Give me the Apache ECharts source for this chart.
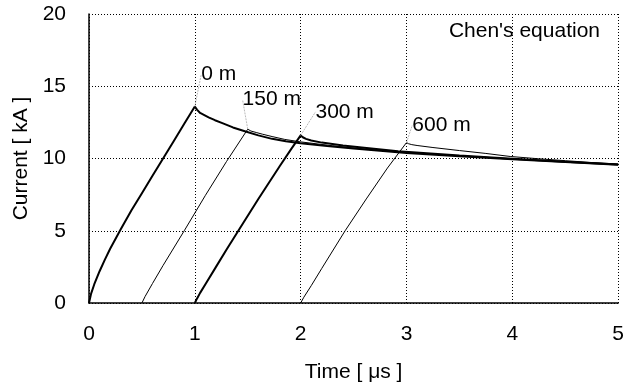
<!DOCTYPE html>
<html>
<head>
<meta charset="utf-8">
<script src="https://cdn.jsdelivr.net/npm/echarts@6/dist/echarts.min.js"></script>
<style>
  html, body { margin: 0; padding: 0; background: #fff; }
  #chart { width: 627px; height: 390px; }
</style>
</head>
<body>
<div id="chart"></div>
<script>
// data (time in us, current in kA)
var t0 = [0, 0.02, 0.05, 0.1, 0.15, 0.2, 0.3, 0.4, 0.5, 0.6, 0.7, 0.8, 0.9, 1.0, 1.02, 1.05, 1.09, 1.13, 1.19, 1.26, 1.36, 1.48, 1.6, 1.73, 1.86, 2.0, 2.25, 2.5, 2.75, 3.0, 3.5, 4.0, 4.5, 5.0];
var i0 = [0, 0.65, 1.3, 2.2, 3.0, 3.75, 5.1, 6.4, 7.6, 8.8, 10.0, 11.2, 12.4, 13.6, 13.38, 13.15, 13.0, 12.85, 12.65, 12.45, 12.15, 11.87, 11.6, 11.36, 11.2, 11.05, 10.86, 10.7, 10.54, 10.38, 10.15, 9.95, 9.75, 9.57];

var t150 = [0.5, 0.53, 0.6, 0.7, 0.9, 1.1, 1.3, 1.5, 1.53, 1.58, 1.64, 1.73, 1.85, 2.0, 2.3, 2.6, 3.0, 3.5, 4.0, 4.5, 5.0];
var i150 = [0, 0.45, 1.35, 2.6, 5.0, 7.45, 9.8, 12.03, 11.9, 11.8, 11.68, 11.52, 11.32, 11.15, 10.88, 10.65, 10.42, 10.18, 9.97, 9.77, 9.58];

var t300 = [1.0, 1.02, 1.05, 1.1, 1.2, 1.3, 1.42, 1.6, 1.8, 1.91, 2.0, 2.02, 2.05, 2.1, 2.2, 2.4, 2.6, 2.92, 3.5, 4.0, 4.5, 5.0];
var i300 = [0, 0.3, 0.7, 1.3, 2.5, 3.7, 5.1, 7.2, 9.45, 10.65, 11.6, 11.47, 11.36, 11.25, 11.1, 10.9, 10.75, 10.5, 10.2, 9.99, 9.78, 9.59];

var t600 = [2.0, 2.03, 2.1, 2.2, 2.42, 2.62, 2.82, 3.0, 3.02, 3.05, 3.1, 3.25, 3.5, 3.75, 3.98, 4.25, 4.5, 4.75, 5.0];
var i600 = [0, 0.4, 1.2, 2.4, 5.0, 7.2, 9.34, 11.1, 11.02, 10.96, 10.9, 10.76, 10.55, 10.35, 10.14, 9.98, 9.85, 9.72, 9.62];

var names = ['0 m', '150 m', '300 m', '600 m'];
var xTicks = [0, 1, 2, 3, 4, 5];
var yTicks = [0, 5, 10, 15, 20];

var FONT = 'Liberation Sans, Arial, sans-serif';

// build one line series, the label sits on the peak point
function makeSeries(name, ts, is, width, shift) {
  var peak = is.indexOf(Math.max.apply(null, is));
  var data = ts.map(function (t, k) {
    var item = { value: [t, is[k]] };
    if (k === peak) {
      item.label = { show: true, formatter: name };
    }
    return item;
  });
  return {
    name: name,
    type: 'line',
    data: data,
    symbol: 'circle',
    symbolSize: 0,
    showAllSymbol: true,
    lineStyle: { color: '#000', width: width },
    itemStyle: { color: '#000' },
    label: {
      show: false,
      position: 'top',
      color: '#000',
      fontFamily: FONT,
      fontSize: 21
    },
    labelLayout: { dx: shift[0], dy: shift[1] },
    labelLine: { show: true, lineStyle: { color: '#bbb', width: 1, type: [2, 1] } },
    emphasis: { disabled: true },
    z: width > 1 ? 3 : 2
  };
}

var chart = echarts.init(document.getElementById('chart'));
var option = {
  animation: false,
  backgroundColor: '#fff',
  grid: { left: 89, right: 5, top: 14, bottom: 87 },
  xAxis: {
    type: 'value',
    min: xTicks[0],
    max: xTicks[xTicks.length - 1],
    interval: 1,
    name: 'Time [ μs ]',
    nameLocation: 'middle',
    nameGap: 59,
    nameTextStyle: { color: '#000', fontFamily: FONT, fontSize: 21 },
    axisLine: { lineStyle: { color: '#000', width: 1.5 } },
    axisTick: { show: false },
    axisLabel: { color: '#000', fontFamily: FONT, fontSize: 21, margin: 21 },
    splitLine: { show: true, lineStyle: { color: '#000', type: [1, 2], width: 1 } }
  },
  yAxis: {
    type: 'value',
    min: yTicks[0],
    max: yTicks[yTicks.length - 1],
    interval: 5,
    name: 'Current [ kA ]',
    nameLocation: 'middle',
    nameGap: 56,
    nameTextStyle: { color: '#000', fontFamily: FONT, fontSize: 21 },
    axisLine: { show: true, lineStyle: { color: '#000', width: 1.5 } },
    axisTick: { show: false },
    axisLabel: { color: '#000', fontFamily: FONT, fontSize: 21, margin: 23 },
    splitLine: { show: true, lineStyle: { color: '#000', type: [1, 2], width: 1 } }
  },
  graphic: [{
    type: 'text',
    right: 27,
    top: 21,
    style: { text: "Chen's equation", fill: '#000', font: '21px ' + FONT }
  }],
  series: [
    makeSeries(names[0], t0, i0, 2, [24, -17]),
    makeSeries(names[1], t150, i150, 1, [24, -14]),
    makeSeries(names[2], t300, i300, 2, [44, -8]),
    makeSeries(names[3], t600, i600, 1, [35, -2])
  ]
};
chart.setOption(option);
</script>
</body>
</html>
